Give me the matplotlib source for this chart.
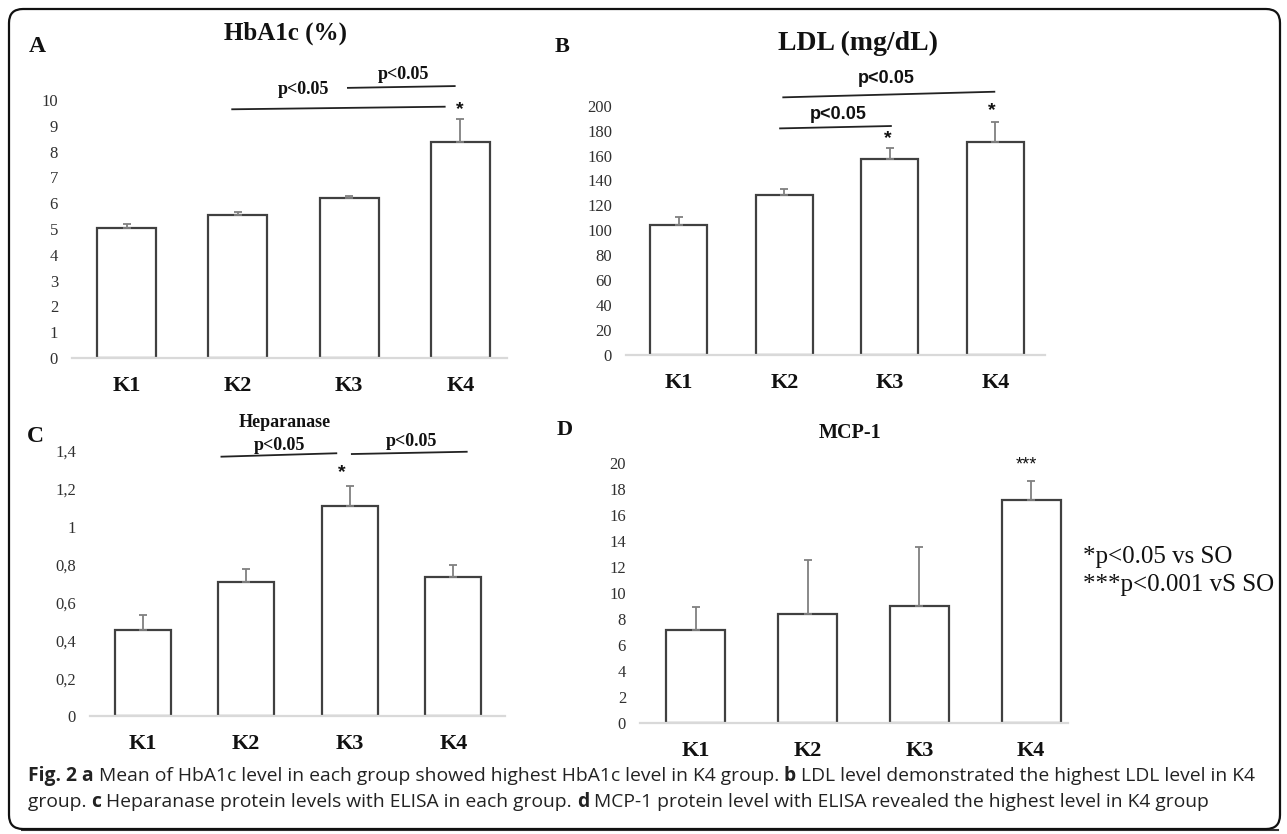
import matplotlib
matplotlib.use("Agg")
import matplotlib.pyplot as plt
from matplotlib.patches import FancyBboxPatch
from matplotlib.lines import Line2D
from matplotlib.transforms import IdentityTransform
from matplotlib import font_manager

# ---------------- data ----------------
categories = ["K1", "K2", "K3", "K4"]

hba1c_mean = [5.05, 5.54, 6.19, 8.36]
hba1c_err = [0.13, 0.12, 0.10, 0.90]
hba1c_ticks = [0, 1, 2, 3, 4, 5, 6, 7, 8, 9, 10]

ldl_mean = [104.3, 128.3, 157.0, 171.0]
ldl_err = [6.1, 4.9, 9.3, 15.6]
ldl_ticks = [0, 20, 40, 60, 80, 100, 120, 140, 160, 180, 200]

hep_mean = [0.454, 0.709, 1.109, 0.734]
hep_err = [0.080, 0.067, 0.106, 0.062]
hep_ticks = [0, 0.2, 0.4, 0.6, 0.8, 1.0, 1.2, 1.4]
hep_ticklabels = ["0", "0,2", "0,4", "0,6", "0,8", "1", "1,2", "1,4"]

mcp_mean = [7.15, 8.38, 9.00, 17.20]
mcp_err = [1.80, 4.19, 4.52, 1.44]
mcp_ticks = [0, 2, 4, 6, 8, 10, 12, 14, 16, 18, 20]

W, H = 1287, 834
fig = plt.figure(figsize=(W / 100, H / 100), dpi=100)
fig.patch.set_facecolor("white")

SERIF = ["Liberation Serif", "DejaVu Serif"]
SANS = ["Liberation Sans", "DejaVu Sans"]
EDGE = "#404040"
ERRC = "#808080"


def fx(x):
    return x / W


def fy(y):
    return 1 - y / H


def make_panel(left, right, y0, ytop, xl, xr, means, errs, ticks, ticklabels=None, width=0.53):
    ax = fig.add_axes([fx(left), fy(y0), fx(right) - fx(left), fy(ytop) - fy(y0)])
    x = list(range(len(categories)))
    ax.bar(x, means, width=width, color="white", edgecolor=EDGE, linewidth=1.6, zorder=2)
    ax.errorbar(x, means, yerr=[[0] * len(errs), errs], fmt="none", ecolor=ERRC,
                elinewidth=1.3, capsize=3, capthick=1.3, zorder=3)
    ax.set_xlim(xl, xr)
    ax.set_ylim(0, ticks[-1])
    ax.set_yticks(ticks)
    if ticklabels is None:
        ticklabels = [str(t) for t in ticks]
    ax.set_yticklabels(ticklabels, fontfamily=SERIF, fontsize=12, color="#303030")
    ax.set_xticks(x)
    ax.set_xticklabels(categories, fontfamily=SERIF, fontsize=16, fontweight="bold", color="#111111")
    ax.tick_params(axis="y", length=0, pad=10)
    ax.tick_params(axis="x", length=0, pad=13)
    for s in ["top", "right", "left"]:
        ax.spines[s].set_visible(False)
    ax.spines["bottom"].set_color("#d9d9d9")
    ax.spines["bottom"].set_linewidth(1.6)
    ax.set_facecolor("none")
    return ax


def sigline(ax, x1, y1, x2, y2):
    ax.add_line(Line2D([x1, x2], [y1, y2], color="#222222", linewidth=1.3, clip_on=False))


def note(ax, x, y, s, family, size, weight="bold"):
    ax.text(x, y, s, ha="center", va="center", fontfamily=family, fontsize=size,
            fontweight=weight, color="#111111", clip_on=False)


# ---------------- Panel A ----------------
axA = make_panel(72, 507, 358, 100, -0.49, 3.42, hba1c_mean, hba1c_err, hba1c_ticks)
sigline(axA, 0.95, 9.64, 2.86, 9.74)
note(axA, 1.59, 10.39, "p<0.05", SERIF, 13)
sigline(axA, 1.99, 10.47, 2.95, 10.54)
note(axA, 2.49, 11.0, "p<0.05", SERIF, 13)
note(axA, 3.0, 9.62, "*", SANS, 14)
fig.text(fx(285), fy(33), "HbA1c (%)", ha="center", va="center", fontfamily=SERIF,
         fontsize=18, fontweight="bold", color="#111111")
fig.text(fx(37), fy(47), "A", ha="center", va="center", fontfamily=SERIF,
         fontsize=17, fontweight="bold", color="#111111")

# ---------------- Panel B ----------------
axB = make_panel(626, 1045, 355, 105.7, -0.50, 3.47, ldl_mean, ldl_err, ldl_ticks, width=0.54)
sigline(axB, 0.99, 206.7, 2.99, 211.2)
note(axB, 1.97, 222.2, "p<0.05", SANS, 13)
sigline(axB, 0.96, 181.8, 2.01, 183.7)
note(axB, 1.51, 193.3, "p<0.05", SANS, 13)
note(axB, 1.98, 173.5, "*", SANS, 14)
note(axB, 2.97, 196.0, "*", SANS, 14)
fig.text(fx(858), fy(43), "LDL (mg/dL)", ha="center", va="center", fontfamily=SERIF,
         fontsize=20, fontweight="bold", color="#111111")
fig.text(fx(562), fy(47), "B", ha="center", va="center", fontfamily=SERIF,
         fontsize=16, fontweight="bold", color="#111111")

# ---------------- Panel C ----------------
axC = make_panel(90, 505, 716, 451, -0.51, 3.50, hep_mean, hep_err, hep_ticks,
                 ticklabels=hep_ticklabels, width=0.54)
sigline(axC, 0.76, 1.370, 1.87, 1.388)
note(axC, 1.32, 1.428, "p<0.05", SERIF, 13)
sigline(axC, 2.02, 1.384, 3.13, 1.396)
note(axC, 2.60, 1.449, "p<0.05", SERIF, 13)
note(axC, 1.92, 1.285, "*", SANS, 14)
fig.text(fx(285), fy(423), "Heparanase", ha="center", va="center", fontfamily=SERIF,
         fontsize=13, fontweight="bold", color="#111111")
fig.text(fx(35), fy(437), "C", ha="center", va="center", fontfamily=SERIF,
         fontsize=17, fontweight="bold", color="#111111")

# ---------------- Panel D ----------------
axD = make_panel(640, 1068, 722.7, 463.3, -0.50, 3.33, mcp_mean, mcp_err, mcp_ticks)
note(axD, 2.96, 19.9, "***", SANS, 13, weight="normal")
fig.text(fx(850), fy(433), "MCP-1", ha="center", va="center", fontfamily=SERIF,
         fontsize=14.5, fontweight="bold", color="#111111")
fig.text(fx(565), fy(430), "D", ha="center", va="center", fontfamily=SERIF,
         fontsize=16, fontweight="bold", color="#111111")
fig.text(fx(1083), fy(557), "*p<0.05 vs SO", ha="left", va="center", fontfamily=SERIF,
         fontsize=18, color="#111111")
fig.text(fx(1083), fy(585), "***p<0.001 vS SO", ha="left", va="center", fontfamily=SERIF,
         fontsize=18, color="#111111")

# ---------------- caption ----------------
installed = {f.name for f in font_manager.fontManager.ttflist}
if "Liberation Sans Narrow" in installed:
    CAPF = ["Liberation Sans Narrow", "DejaVu Sans"]
else:
    CAPF = ["Open Sans", "DejaVu Sans"]
line1 = [("Fig. 2 a", "bold"),
         (" Mean of HbA1c level in each group showed highest HbA1c level in K4 group. ", "normal"),
         ("b", "bold"),
         (" LDL level demonstrated the highest LDL level in K4", "normal")]
line2 = [("group. ", "normal"),
         ("c", "bold"),
         (" Heparanase protein levels with ELISA in each group. ", "normal"),
         ("d", "bold"),
         (" MCP-1 protein level with ELISA revealed the highest level in K4 group", "normal")]

renderer = fig.canvas.get_renderer()


def draw_line(parts, x0, y, size):
    x = x0
    for s, w in parts:
        t = fig.text(fx(x), fy(y), s, ha="left", va="center", fontfamily=CAPF,
                     fontsize=size, fontweight=w, color="#222222")
        bb = t.get_window_extent(renderer=renderer)
        x += bb.width
    return x - x0


probe = [fig.text(0, 0, s, fontfamily=CAPF, fontsize=10, fontweight=w) for s, w in line1]
wsum = sum(p.get_window_extent(renderer=renderer).width for p in probe)
for p in probe:
    p.remove()
cap_size = 10 * (1227 / wsum)
draw_line(line1, 28, 776, cap_size)
draw_line(line2, 28, 802, cap_size)

# ---------------- frame ----------------
frame = FancyBboxPatch((9, H - 829), 1271, 820, boxstyle="round,pad=0,rounding_size=14",
                       transform=IdentityTransform(), facecolor="none", edgecolor="#111111",
                       linewidth=1.6, zorder=10)
fig.patches.append(frame)
fig.add_artist(Line2D([22, 1278], [H - 830, H - 830], transform=IdentityTransform(),
                      color="#333333", linewidth=1.5))

fig.savefig("out.png", dpi=100, facecolor="white")
